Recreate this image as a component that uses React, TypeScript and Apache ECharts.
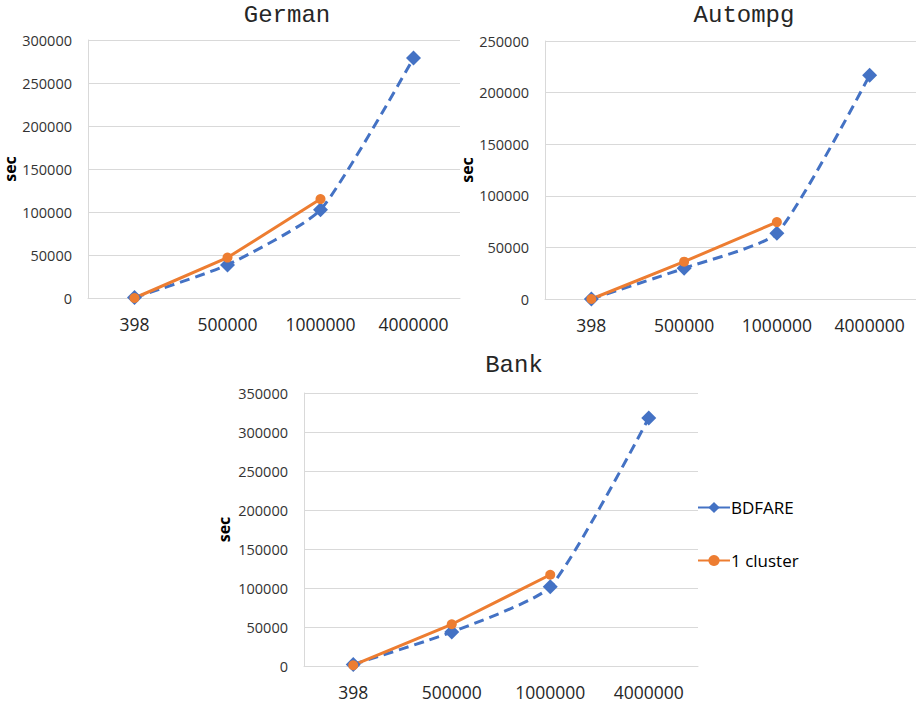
import React, { useEffect, useRef } from "react";
import * as echarts from "echarts";

const categories = ["398", "500000", "1000000", "4000000"];

const germanBdfare = [500, 38500, 102500, 279000];
const germanCluster = [0, 47000, 115000, null];

const autompgBdfare = [0, 29800, 63800, 216800];
const autompgCluster = [0, 36200, 74500, null];

const bankBdfare = [2000, 43500, 101500, 318000];
const bankCluster = [1000, 53500, 117000, null];

const titles = ["German", "Autompg", "Bank"];
const yMaxes = [300000, 250000, 350000];

const BLUE = "#4472C4";
const ORANGE = "#ED7D31";
const FONT = "'Open Sans', 'Noto Sans', sans-serif";

export default function App() {
  const ref = useRef<HTMLDivElement>(null);

  useEffect(() => {
    if (!ref.current) return;
    const chart = echarts.init(ref.current, null, { renderer: "svg" });

    const grids = [
      { left: 88, top: 40, width: 372, height: 258 },
      { left: 545, top: 41, width: 371, height: 258 },
      { left: 304, top: 393, width: 394, height: 273 },
    ];
    const titlePos = [
      { left: 282, top: -2 },
      { left: 739, top: -2 },
      { left: 509, top: 348 },
    ];
    const nameGaps = [66, 67, 72];

    const xAxes = grids.map((_, i) => ({
      type: "category",
      gridIndex: i,
      data: categories,
      boundaryGap: true,
      axisLine: { show: true, lineStyle: { color: "#d9d9d9", width: 1 } },
      axisTick: { show: false },
      axisLabel: { color: "#262626", fontSize: 17.5, fontFamily: FONT, margin: 17 },
    }));

    const yAxes = grids.map((_, i) => ({
      type: "value",
      gridIndex: i,
      min: 0,
      max: yMaxes[i],
      interval: 50000,
      name: "sec",
      nameLocation: "middle",
      nameRotate: 90,
      nameGap: nameGaps[i],
      nameTextStyle: { fontSize: 16, fontWeight: "bold", color: "#000", fontFamily: FONT },
      axisLine: { show: true, lineStyle: { color: "#d9d9d9", width: 1 } },
      axisTick: { show: false },
      axisLabel: {
        color: "#333",
        fontSize: 14.5,
        fontFamily: FONT,
        margin: 16,
        formatter: (v: number) => String(v),
      },
      splitLine: { show: true, lineStyle: { color: "#d9d9d9", width: 1 } },
    }));

    const bdfareSets = [germanBdfare, autompgBdfare, bankBdfare];
    const clusterSets = [germanCluster, autompgCluster, bankCluster];

    const series: any[] = [];
    for (let i = 0; i < 3; i++) {
      series.push({
        name: "BDFARE",
        type: "line",
        xAxisIndex: i,
        yAxisIndex: i,
        data: bdfareSets[i],
        smooth: 0.18,
        symbol: "diamond",
        symbolSize: 15,
        itemStyle: { color: BLUE },
        lineStyle: { color: BLUE, width: 3, type: [10, 6] },
      });
      series.push({
        name: "1 cluster",
        type: "line",
        xAxisIndex: i,
        yAxisIndex: i,
        data: clusterSets[i],
        symbol: "circle",
        symbolSize: 10,
        itemStyle: { color: ORANGE },
        lineStyle: { color: ORANGE, width: 3 },
      });
    }

    chart.setOption({
      animation: false,
      backgroundColor: "#fff",
      title: titles.map((t, i) => ({
        text: t,
        left: titlePos[i].left,
        top: titlePos[i].top,
        textAlign: "center",
        textStyle: {
          fontFamily: "'Liberation Mono', 'Courier New', monospace",
          fontSize: 24,
          fontWeight: "normal",
          color: "#262626",
        },
      })),
      legend: {
        data: ["BDFARE", "1 cluster"],
        orient: "vertical",
        left: 692,
        top: 494,
        itemWidth: 32,
        itemHeight: 14,
        itemGap: 36,
        lineStyle: { type: "solid" },
        textStyle: { fontSize: 17, color: "#000", fontFamily: FONT, padding: [0, 0, 0, -4] },
      },
      grid: grids.map((g) => ({ ...g, containLabel: false })),
      xAxis: xAxes,
      yAxis: yAxes,
      series,
    });

    return () => chart.dispose();
  }, []);

  return (
    <div
      ref={ref}
      style={{ position: "fixed", left: 0, top: 0, width: 916, height: 708, background: "#fff" }}
    />
  );
}
